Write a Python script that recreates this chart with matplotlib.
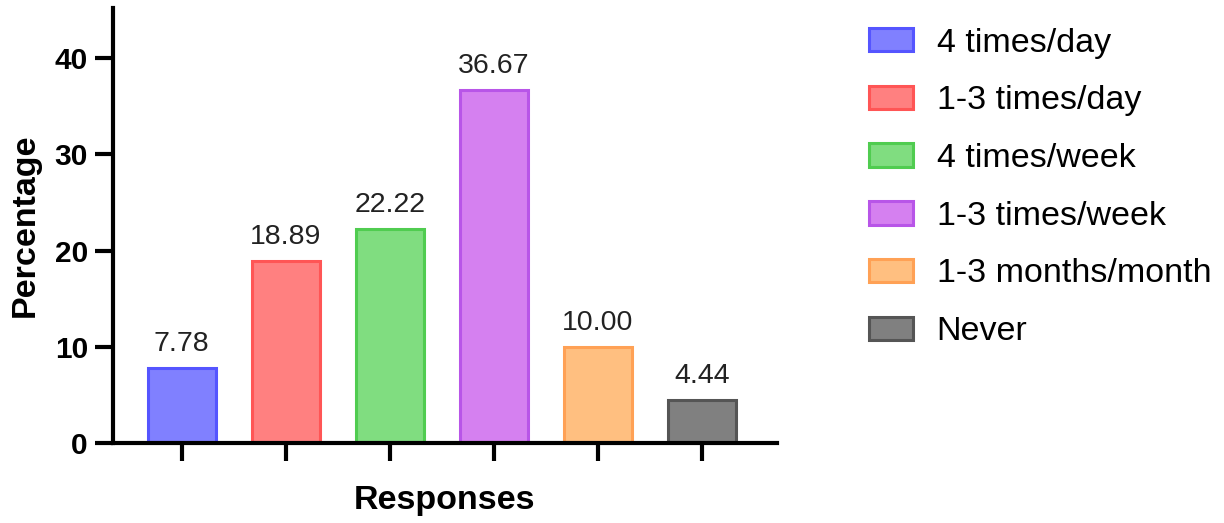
import matplotlib
matplotlib.use("Agg")
import matplotlib.pyplot as plt
from matplotlib.patches import Patch

plt.rcParams['font.family'] = ['Liberation Sans', 'DejaVu Sans']

categories = ["4 times/day", "1-3 times/day", "4 times/week", "1-3 times/week",
              "1-3 months/month", "Never"]
values = [7.78, 18.89, 22.22, 36.67, 10.00, 4.44]
value_labels = ["7.78", "18.89", "22.22", "36.67", "10.00", "4.44"]
fill_colors = ["#8080FF", "#FF8080", "#80DD80", "#D580F0", "#FFBF80", "#808080"]
edge_colors = ["#5555FF", "#FF5555", "#50CC50", "#B855E8", "#FFA155", "#555555"]
y_ticks = [0, 10, 20, 30, 40]

fig = plt.figure(figsize=(12.24, 5.23), dpi=100)
ax = fig.add_axes([113/1224, 1-443/523, (777-113)/1224, (443-8)/523])

x = list(range(len(values)))
ax.bar(x, values, width=0.65, color=fill_colors, edgecolor=edge_colors, linewidth=2.2)
for xi, v, lab in zip(x, values, value_labels):
    ax.annotate(lab, (xi, v), xytext=(0, 8), textcoords="offset points",
                ha="center", va="bottom", fontsize=20.5, color="#222222")

ax.set_xlim(-0.66, 5.72)
ax.set_ylim(0, 45.2)
ax.set_yticks(y_ticks)
ax.set_yticklabels([str(t) for t in y_ticks], fontsize=21.5, fontweight="bold")
ax.set_xticks(x)
ax.set_xticklabels([""] * len(x))
ax.tick_params(axis="both", width=3, length=13, color="black")
ax.tick_params(axis="y", pad=5)
for s in ["top", "right"]:
    ax.spines[s].set_visible(False)
for s in ["left", "bottom"]:
    ax.spines[s].set_linewidth(3)
ax.set_ylabel("Percentage", fontsize=24.5, fontweight="bold", labelpad=10)
ax.set_xlabel("Responses", fontsize=24.5, fontweight="bold", labelpad=14)

handles = [Patch(facecolor=fc, edgecolor=ec, linewidth=2.2, label=c)
           for fc, ec, c in zip(fill_colors, edge_colors, categories)]
fig.legend(handles=handles, loc="upper left", bbox_to_anchor=(855/1224, 1-14/523),
           frameon=False, fontsize=24.5, handlelength=1.3, handleheight=0.68,
           handletextpad=0.7, labelspacing=0.785, borderaxespad=0)

fig.savefig("out.png", dpi=100)
